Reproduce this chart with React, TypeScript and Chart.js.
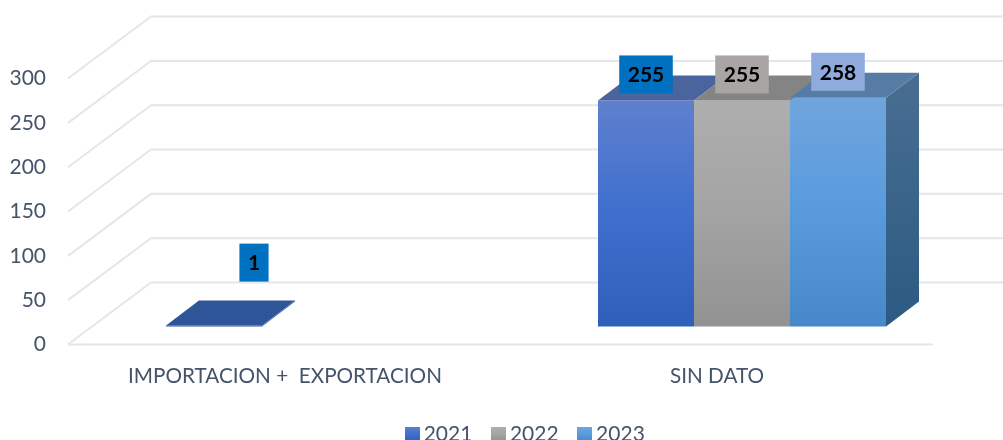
import React, { useEffect, useRef } from "react";
import { Chart, registerables } from "chart.js";

Chart.register(...registerables);

const categories = ["IMPORTACION +  EXPORTACION", "SIN DATO"];
const seriesNames = ["2021", "2022", "2023"];
const values2021 = [1, 255];
const values2022 = [null, 255];
const values2023 = [null, 258];
const yTicksMax = 300;

const FONT = "Lato";
const TEXT = "#44546a";
const GRID = "#e3e6ec";
// oblique projection of the chart floor
const WALL = { dx: 82, dy: -62 };
const BAR_PLANE = { dx: 25, dy: -18 };
const BAR_DEPTH = { dx: 33, dy: -25 };

const styles = [
  { from: "#5f80cd", mid: "#4170ce", to: "#2e60bb", top: "#4a659d", sideFrom: "#3f5c98", sideTo: "#2e5597", box: "#0070c0" },
  { from: "#aeaeae", mid: "#a5a5a5", to: "#929292", top: "#848484", sideFrom: "#777777", sideTo: "#666666", box: "#a9a5a5" },
  { from: "#70a5dd", mid: "#5a9cde", to: "#4688c9", top: "#567ca6", sideFrom: "#466c90", sideTo: "#2c5a82", box: "#8faadc" },
];
const FLAT_BAR = "#2e5597";

// the one data label the reference moved away from its bar
const movedLabel = { dataset: 0, index: 0, dx: 40, dy: -37 };

function addStops(grad: CanvasGradient, i: number) {
  grad.addColorStop(0, styles[i].from);
  grad.addColorStop(0.45, styles[i].mid);
  grad.addColorStop(1, styles[i].to);
  return grad;
}

function legendSwatch(i: number) {
  const c = document.createElement("canvas");
  c.width = 15;
  c.height = 15;
  const g = c.getContext("2d")!;
  g.fillStyle = addStops(g.createLinearGradient(0, 0, 0, 15), i);
  g.fillRect(0, 0, 15, 15);
  return c;
}

function quad(ctx: CanvasRenderingContext2D, pts: number[][], fill: any) {
  ctx.beginPath();
  ctx.moveTo(pts[0][0], pts[0][1]);
  pts.slice(1).forEach((p) => ctx.lineTo(p[0], p[1]));
  ctx.closePath();
  ctx.fillStyle = fill;
  ctx.fill();
}

const hasValue = (chart: any, ds: number, idx: number) => {
  const set = chart.data.datasets[ds];
  if (!set) return false;
  const v = set.data[idx];
  return v !== null && v !== undefined;
};

const forEachBar = (chart: any, cb: (el: any, ds: number, idx: number) => void) => {
  chart.data.datasets.forEach((_: any, ds: number) => {
    chart.getDatasetMeta(ds).data.forEach((el: any, idx: number) => {
      if (hasValue(chart, ds, idx)) cb(el, ds, idx);
    });
  });
};

const wallPlugin = {
  id: "wall",
  afterLayout(chart: any) {
    chart.legend.left += 61.5;
    chart.legend.right += 61.5;
    chart.legend.top = 399;
    chart.legend.bottom = 440;
  },
  beforeDatasetsDraw(chart: any) {
    const { ctx, scales, chartArea } = chart;
    const y = scales.y;
    ctx.save();
    ctx.strokeStyle = GRID;
    ctx.lineWidth = 2;
    y.ticks.forEach((t: any) => {
      const py = y.getPixelForValue(t.value);
      ctx.beginPath();
      ctx.moveTo(chartArea.left - 1, py);
      ctx.lineTo(chartArea.left + WALL.dx, py + WALL.dy);
      ctx.lineTo(chartArea.right + WALL.dx, py + WALL.dy);
      ctx.stroke();
    });
    const floor = y.getPixelForValue(0);
    ctx.beginPath();
    ctx.moveTo(chartArea.left - 1, floor);
    ctx.lineTo(chartArea.right, floor);
    ctx.stroke();
    ctx.restore();

    // side faces, then shift the bars onto their plane
    ctx.save();
    ctx.translate(BAR_PLANE.dx, BAR_PLANE.dy);
    forEachBar(chart, (el, ds, idx) => {
      if (hasValue(chart, ds + 1, idx)) return;
      const right = el.x + el.width / 2;
      const grad = ctx.createLinearGradient(0, el.y, 0, el.base);
      grad.addColorStop(0, styles[ds].sideFrom);
      grad.addColorStop(1, styles[ds].sideTo);
      quad(ctx, [
        [right, el.y],
        [right + BAR_DEPTH.dx, el.y + BAR_DEPTH.dy],
        [right + BAR_DEPTH.dx, el.base + BAR_DEPTH.dy],
        [right, el.base],
      ], grad);
    });
    ctx.restore();
    ctx.save();
    ctx.translate(BAR_PLANE.dx, BAR_PLANE.dy);
  },
  afterDatasetsDraw(chart: any) {
    const { ctx } = chart;
    ctx.restore();
    ctx.save();
    ctx.translate(BAR_PLANE.dx, BAR_PLANE.dy);
    forEachBar(chart, (el, ds, idx) => {
      const l = el.x - el.width / 2;
      const r = el.x + el.width / 2;
      quad(ctx, [
        [l, el.y],
        [r, el.y],
        [r + BAR_DEPTH.dx, el.y + BAR_DEPTH.dy],
        [l + BAR_DEPTH.dx, el.y + BAR_DEPTH.dy],
      ], ds === 0 && idx === 0 ? FLAT_BAR : styles[ds].top);
    });
    // data labels
    ctx.font = `bold 21px ${FONT}`;
    ctx.textAlign = "center";
    ctx.textBaseline = "middle";
    forEachBar(chart, (el, ds, idx) => {
      const text = String(chart.data.datasets[ds].data[idx]);
      const moved = movedLabel.dataset === ds && movedLabel.index === idx;
      const cx = el.x + (moved ? movedLabel.dx : 0);
      const cy = el.y - 26 + (moved ? movedLabel.dy : 0);
      const w = ctx.measureText(text).width + 17;
      ctx.fillStyle = styles[ds].box;
      ctx.fillRect(cx - w / 2, cy - 19, w, 38);
      ctx.fillStyle = "#000000";
      ctx.fillText(text, cx, cy + 1);
    });
    ctx.restore();
  },
};

export default function App() {
  const ref = useRef<HTMLCanvasElement>(null);
  useEffect(() => {
    const seriesData = [values2021, values2022, values2023];
    const chart = new Chart(ref.current!, {
      type: "bar",
      data: {
        labels: categories,
        datasets: seriesNames.map((name, i) => ({
          label: name,
          data: seriesData[i],
          clip: false,
          backgroundColor: (c: any) => {
            const area = c.chart.chartArea;
            if (!area || c.parsed === undefined || c.parsed.y === null) return styles[i].to;
            if (i === 0 && c.dataIndex === 0) return FLAT_BAR;
            const y = c.chart.scales.y;
            return addStops(c.chart.ctx.createLinearGradient(0, y.getPixelForValue(c.parsed.y), 0, y.getPixelForValue(0)), i);
          },
          borderWidth: 0,
          categoryPercentage: 288 / 432,
          barPercentage: 1,
        })),
      } as any,
      options: {
        responsive: false,
        animation: false,
        events: [],
        layout: { padding: { left: 0, top: 16.5, right: 70, bottom: -6.5 } },
        scales: {
          x: {
            grid: { display: false, drawTicks: false },
            border: { display: false },
            afterFit: (s: any) => {
              s.height = 46;
              s.paddingLeft = 0;
              s.paddingRight = 0;
            },
            ticks: {
              color: TEXT,
              padding: 19,
              maxRotation: 0,
              autoSkip: false,
              font: { family: FONT, size: 20.7 },
            },
          },
          y: {
            min: 0,
            max: 370,
            grid: { display: false, drawTicks: false },
            border: { display: false },
            afterFit: (s: any) => {
              s.width = 69;
              s.paddingTop = 0;
              s.paddingBottom = 0;
            },
            afterBuildTicks: (s: any) => {
              s.ticks = s.ticks.filter((t: any) => t.value <= yTicksMax);
            },
            ticks: {
              color: TEXT,
              stepSize: 50,
              padding: 23,
              font: { family: FONT, size: 21 },
            },
          },
        },
        plugins: {
          tooltip: { enabled: false },
          legend: {
            position: "bottom",
            labels: {
              color: TEXT,
              font: { family: FONT, size: 21 },
              padding: 25,
              boxWidth: 2,
              boxHeight: 15,
              usePointStyle: true,
              pointStyleWidth: 2,
              generateLabels: () =>
                seriesNames.map((name, i) => ({
                  text: name,
                  fontColor: TEXT,
                  datasetIndex: i,
                  hidden: false,
                  lineWidth: 0,
                  pointStyle: legendSwatch(i),
                })),
            },
          },
        },
      } as any,
      plugins: [wallPlugin],
    });
    return () => chart.destroy();
  }, []);
  return (
    <div style={{ position: "absolute", left: 0, top: 0, width: 1003, height: 440 }}>
      <canvas ref={ref} width={1003} height={440} style={{ display: "block" }} />
    </div>
  );
}
